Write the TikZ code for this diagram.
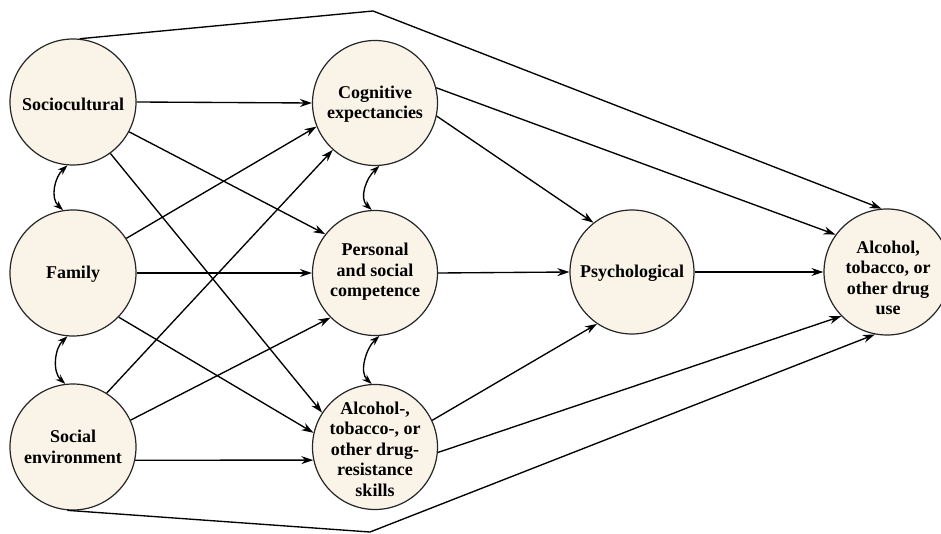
\documentclass[tikz,border=0pt]{standalone}
\usepackage{fontspec}
\setmainfont{Liberation Serif}
\newfontfamily\lblfont{Liberation Serif}
\usetikzlibrary{arrows.meta}
\definecolor{circfill}{RGB}{250,243,232}
\begin{document}
\begin{tikzpicture}[x=1pt,y=-1pt,
  bub/.style={circle, draw=black!85, line width=1.2pt, fill=circfill, minimum size=126pt, inner sep=0pt},
  lbl/.style={align=center, font=\lblfont\fontsize{18}{20.5}\selectfont\bfseries, inner sep=0pt},
  conn/.style={line width=1.35pt, -{Stealth[length=12pt,width=8pt]}},
  dbl/.style={line width=1.35pt, {Stealth[length=10pt,width=7pt]}-{Stealth[length=10pt,width=7pt]}}]
\useasboundingbox (0,0) rectangle (941,534);
% circles
\node[bub] (SC) at (73,102) {};
\node[bub] (FA) at (73,273) {};
\node[bub] (SE) at (73,447) {};
\node[bub, minimum size=125pt] (CE) at (375,103) {};
\node[bub, minimum size=125pt] (PC) at (375,273) {};
\node[bub, minimum size=125pt] (RS) at (375,447) {};
\node[bub, minimum size=124pt] (PS) at (632,272) {};
\node[bub, minimum size=126pt] (AU) at (887,272) {};
% labels
\node[lbl] (SCt) at (73,104) {Sociocultural};
\node[lbl] (FAt) at (73,274) {Family};
\node[lbl] (SEt) at (73,447) {Social\\environment};
\node[lbl] (CEt) at (375,104) {Cognitive\\expectancies};
\node[lbl] (PCt) at (375,272) {Personal\\and social\\competence};
\node[lbl] (RSt) at (375,449) {Alcohol-,\\tobacco-, or\\other drug-\\resistance\\skills};
\node[lbl] (PSt) at (632,273) {Psychological};
\node[lbl] (AUt) at (888,278) {Alcohol,\\tobacco, or\\other drug\\use};
% left to middle
\draw[conn] (SC.0) -- (CE.180);
\draw[conn] (SC.-28) -- (PC.142);
\draw[conn] (SC.-54) -- (RS.147);
\draw[conn] (FA.33) -- (CE.-158);
\draw[conn] (FA.0) -- (PC.180);
\draw[conn] (FA.-44) -- (RS.167);
\draw[conn] (SE.58) -- (CE.-132);
\draw[conn] (SE.25) -- (PC.-135);
\draw[conn] (SE.-12) -- (RS.-168);
% middle to right
\draw[conn] (CE.14) -- (AU.144);
\draw[conn] (CE.-12) -- (PS.128);
\draw[conn] (PC.0) -- (PS.180);
\draw[conn] (RS.25) -- (PS.-124);
\draw[conn] (RS.-5) -- (AU.-136);
\draw[conn] (PS.0) -- (AU.180);
% outer lines
\coordinate (topk) at (373,11);
\coordinate (botk) at (370,532);
\draw[conn] (SC.84) -- (topk) -- (AU.95);
\draw[conn] (SE.-95) -- (botk) -- (AU.-101);
% double-headed curved arrows
\draw[dbl] (SC.-95) .. controls +(-13,12) and +(-13,-12) .. (FA.99);
\draw[dbl] (FA.-95) .. controls +(-13,12) and +(-13,-12) .. (SE.97);
\draw[dbl] (CE.-86) .. controls +(-13,12) and +(-13,-12) .. (PC.93);
\draw[dbl] (PC.-86) .. controls +(-13,12) and +(-13,-12) .. (RS.93);
\end{tikzpicture}
\end{document}
